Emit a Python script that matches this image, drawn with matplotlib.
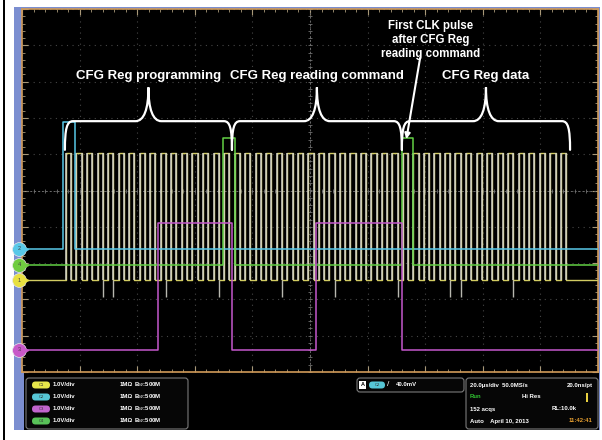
import numpy as np
import matplotlib.pyplot as plt
from matplotlib.patches import Rectangle, FancyBboxPatch, PathPatch
from matplotlib.path import Path

plt.rcParams['font.family'] = ['Liberation Sans', 'DejaVu Sans']

# =========================
# SCOPE SETTINGS
# =========================
W, H = 602, 440            # screenshot size (px)
t_span = 200.0             # 10 div x 20 us/div
v_high = 3.5               # logic high (V), 1 V/div

# channel ground offsets (div)
off_clk = -2.47
off_sdi = -1.61
off_le = -4.39
off_sdo = -2.05

# =========================
# WAVEFORM DATA (us)
# =========================
clk_rise_us = [15.3, 18.9, 22.6, 26.3, 29.9, 33.6, 37.2, 40.9, 44.5, 48.2, 51.8, 55.5,
               59.2, 62.8, 66.5, 70.1, 73.8, 77.4, 81.1, 84.7, 88.4, 92.1, 95.7, 99.4,
               103.0, 106.7, 110.3, 114.0, 117.6, 121.3, 125.0, 128.6, 132.3, 135.9,
               139.6, 143.2, 146.9, 150.5, 154.2, 157.9, 161.5, 165.2, 168.8, 172.5,
               176.1, 179.8, 183.5, 187.1]
clk_high_us = 1.83
clk_undershoot_us = [28.1, 31.6, 50.3, 68.1, 90.3, 109.4, 130.2, 148.6, 152.8, 170.5]
clk_undershoot_v = -0.47

sdi_edges_us = [14.2, 18.4]
sdo_edges_us = [69.8, 74.0, 131.9, 135.8]
le_edges_us = [47.2, 72.9, 102.1, 131.9]

brace_spans_us = [(14.9, 72.9), (72.9, 131.9), (131.9, 190.3)]
brace_labels = ['CFG Reg programming', 'CFG Reg reading command', 'CFG Reg data']


def step_trace(edges, offset):
    t = [0.0]
    v = [0.0]
    level = 0.0
    for e in edges:
        t += [e, e]
        v += [level, v_high - level]
        level = v_high - level
    t.append(t_span)
    v.append(level)
    return np.array(t), np.array(v) + offset


def brace(ax, t0, t1, y_end, y_bar, y_tip, r_end, r_tip):
    tm = (t0 + t1) / 2
    dy = y_tip - y_bar
    verts = [
        (t0, y_end),
        (t0, y_end + 0.75 * (y_bar - y_end)), (t0 + 0.25 * r_end, y_bar), (t0 + r_end, y_bar),
        (tm - r_tip, y_bar),
        (tm - 0.35 * r_tip, y_bar), (tm, y_bar + 0.35 * dy), (tm, y_tip),
        (tm, y_bar + 0.35 * dy), (tm + 0.35 * r_tip, y_bar), (tm + r_tip, y_bar),
        (t1 - r_end, y_bar),
        (t1 - 0.25 * r_end, y_bar), (t1, y_end + 0.75 * (y_bar - y_end)), (t1, y_end),
    ]
    codes = [Path.MOVETO] + [Path.CURVE4] * 3 + [Path.LINETO] + [Path.CURVE4] * 6 \
        + [Path.LINETO] + [Path.CURVE4] * 3
    ax.add_patch(PathPatch(Path(verts, codes), fill=False, edgecolor='white',
                           lw=1.6, capstyle='round', zorder=6))


fig = plt.figure(figsize=(W / 100, H / 100), dpi=100)
fig.patch.set_facecolor('white')

# =========================
# SCREEN FRAME (pixel coords)
# =========================
ui = fig.add_axes([0, 0, 1, 1], zorder=0)
ui.set_xlim(0, W)
ui.set_ylim(H, 0)
ui.axis('off')
ui.add_patch(Rectangle((3, 0), 1.6, H, fc='black', ec='none'))
ui.add_patch(Rectangle((14, 7), 586, 423, fc='#7b8ed0', ec='none'))
ui.add_patch(Rectangle((24, 372), 575, 58, fc='black', ec='none'))

txt = dict(color='white', fontsize=4.3, fontweight='bold', va='center')

# channel legend box
ui.add_patch(FancyBboxPatch((26, 378), 162, 51, boxstyle='round,pad=0,rounding_size=3',
                            fc='#060606', ec='#7a7a7a', lw=0.8))
pill_cols = ['#e6e64a', '#56c6d6', '#c064cc', '#58c258']
for i, (name, col) in enumerate(zip(['C1', 'C2', 'C3', 'C4'], pill_cols)):
    y = 385 + 12 * i
    ui.add_patch(FancyBboxPatch((32, y - 3.5), 18, 7, boxstyle='round,pad=0,rounding_size=3.5',
                                fc=col, ec='none'))
    ui.text(41, y, name, color='#303030', fontsize=3, ha='center', va='center')
    ui.text(53, y, '1.0V/div', **txt)
    ui.text(120, y, '1M\u03a9', **txt)
    ui.text(134, y, 'B$_W$:500M', **txt)

# trigger box
ui.add_patch(FancyBboxPatch((357, 378), 107, 14, boxstyle='round,pad=0,rounding_size=3',
                            fc='#060606', ec='#7a7a7a', lw=0.8))
ui.add_patch(Rectangle((359, 381), 7, 8, fc='white', ec='none'))
ui.text(362.5, 385, 'A', color='black', fontsize=4, fontweight='bold', ha='center', va='center')
ui.add_patch(FancyBboxPatch((369, 381.5), 16, 7, boxstyle='round,pad=0,rounding_size=3.5',
                            fc='#56c6d6', ec='none'))
ui.text(377, 385, 'C2', color='#303030', fontsize=3, ha='center', va='center')
ui.text(388, 385, '/', color='white', fontsize=6, ha='center', va='center')
ui.text(396, 385, '40.0mV', **txt)

# acquisition box
ui.add_patch(FancyBboxPatch((466, 378), 132, 51, boxstyle='round,pad=0,rounding_size=3',
                            fc='#060606', ec='#7a7a7a', lw=0.8))
ui.text(470, 385, '20.0\u00b5s/div  50.0MS/s', **txt)
ui.text(593, 385, '20.0ns/pt', ha='right', **txt)
ui.text(470, 397, 'Run', color='#2ec030', fontsize=4.3, fontweight='bold', va='center')
ui.text(522, 397, 'Hi Res', **txt)
ui.add_patch(Rectangle((586, 393), 2.2, 9, fc='#e8d040', ec='none'))
ui.text(470, 409, '152 acqs', **txt)
ui.text(552, 409, 'RL:10.0k', **txt)
ui.text(470, 421, 'Auto    April 10, 2013', **txt)
ui.text(593, 421, '11:42:41', color='#e8a030', fontsize=4.3, fontweight='bold',
        ha='right', va='center')

# channel names
for i, (s, col) in enumerate(zip(['C1=CLK', 'C2=SDI', 'C3=LE', 'C4=SDO'],
                                  ['#ece024', '#3aa8ea', '#9050c8', '#22c240'])):
    ui.text(32, 19 + 11 * i, s, color=col, fontsize=6.8, fontweight='bold', va='center',
            zorder=5)

# =========================
# SCOPE GRATICULE
# =========================
ax = fig.add_axes([22 / W, 1 - 372 / H, 576 / W, 363 / H], zorder=1)
ax.set_facecolor('black')
ax.set_xlim(0, t_span)
ax.set_ylim(-5, 5)
ax.set_xticks(np.arange(0, 201, 20))
ax.set_xticks(np.arange(0, 201, 4), minor=True)
ax.set_yticks(np.arange(-5, 6, 1))
ax.set_yticks(np.arange(-5, 5.01, 0.2), minor=True)
ax.tick_params(which='both', direction='in', colors='#a89878', top=True, right=True,
               labelbottom=False, labelleft=False)
ax.tick_params(which='major', length=4, width=0.8)
ax.tick_params(which='minor', length=2.5, width=0.6)
for sp in ax.spines.values():
    sp.set_color('#d09a58')
    sp.set_linewidth(1.2)
ax.grid(True, which='major', color='#464646', ls=(0, (1, 4)), lw=0.8)
ax.axhline(0, color='#6a6a6a', ls=(0, (2, 2)), lw=0.7)
ax.axvline(100, color='#6a6a6a', ls=(0, (2, 2)), lw=0.7)
ax.plot(np.arange(0, 200.1, 4), np.zeros(51), ls='none', marker='|', ms=3,
        color='#707070', mew=0.6)
ax.plot(np.full(51, 100.0), np.arange(-5, 5.01, 0.2), ls='none', marker='_', ms=3,
        color='#707070', mew=0.6)

# =========================
# TRACES
# =========================
clk_fall_us = [r + clk_high_us for r in clk_rise_us]
clk_edges = sorted(clk_rise_us + clk_fall_us)
t, v = step_trace(clk_edges, off_clk)
ax.plot(t, v, color='#d2cc62', lw=1.0, zorder=3)
ax.vlines(clk_edges, off_clk, off_clk + v_high, color='#d2d2ca', lw=1.1, zorder=3)
snap = [min(clk_fall_us, key=lambda f: abs(f - u)) for u in clk_undershoot_us]
ax.vlines(snap, off_clk + clk_undershoot_v, off_clk, color='#b8b8b0', lw=1.0, zorder=3)

t, v = step_trace(sdi_edges_us, off_sdi)
ax.plot(t, v, color='#58c8e8', lw=1.1, zorder=4)
t, v = step_trace(sdo_edges_us, off_sdo)
ax.plot(t, v, color='#62d044', lw=1.1, zorder=4)
t, v = step_trace(le_edges_us, off_le)
ax.plot(t, v, color='#c458cc', lw=1.1, zorder=4)

# ground markers
for num, off, col in [('2', off_sdi, '#58c8e8'), ('4', off_sdo, '#70cc40'),
                      ('1', off_clk, '#e8e040'), ('3', off_le, '#c858c8')]:
    ax.plot([-1.0], [off], 'o', ms=10, mfc=col, mec='#e8e8e8', mew=0.5,
            clip_on=False, zorder=7)
    ax.plot([1.4], [off], '>', ms=3, color=col, clip_on=False, zorder=7)
    ax.text(-1.0, off, num, color='#404040', fontsize=4, ha='center', va='center',
            zorder=8, clip_on=False)

# =========================
# ANNOTATIONS
# =========================
for (t0, t1), lab in zip(brace_spans_us, brace_labels):
    brace(ax, t0, t1, 1.12, 1.91, 2.84, 2.8, 4.5)
    ax.text((t0 + t1) / 2, 3.15, lab, color='white', fontsize=9.5, fontweight='bold',
            ha='center', va='center', zorder=6)

ax.text(142.0, 4.15, 'First CLK pulse\nafter CFG Reg\nreading command', color='white',
        fontsize=8.3, fontweight='bold', ha='center', va='center', linespacing=1.25,
        zorder=6)
ax.annotate('', xy=(133.3, 1.34), xytext=(138.4, 3.73),
            arrowprops=dict(arrowstyle='-|>', color='white', lw=1.5, mutation_scale=8),
            zorder=6)

fig.savefig('out.png', dpi=100)
